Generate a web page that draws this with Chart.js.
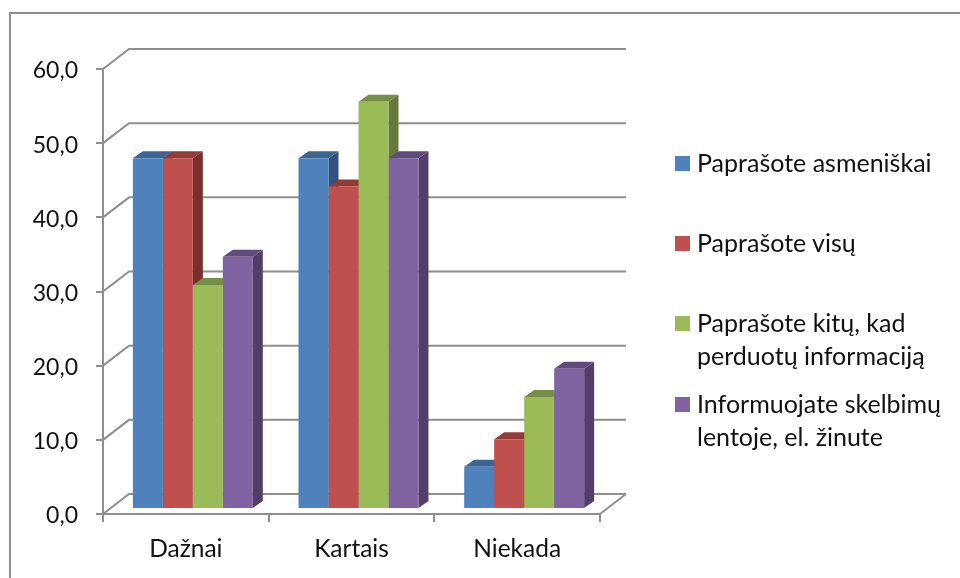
<!DOCTYPE html>
<html lang="lt">
<head>
<meta charset="utf-8">
<title>Chart</title>
<script src="https://cdn.jsdelivr.net/npm/chart.js@4"></script>
<style>
    html, body { margin: 0; padding: 0; background: #fff; overflow: hidden; }
    #wrap { position: relative; width: 960px; height: 578px; overflow: hidden; font-family: Lato, sans-serif; }
    #frame { position: absolute; left: 9px; top: 12px; width: 1000px; height: 700px; border: 2px solid #8e8e8e; }
    #chart { position: absolute; left: 0; top: 0; }
    .item { position: absolute; left: 697px; font-size: 25px; line-height: 33px; color: #111; white-space: pre-line; }
    .swatch { position: absolute; left: 675px; width: 15px; height: 15px; }
</style>
</head>
<body>
<div id="wrap">
    <div id="frame"></div>
    <canvas id="chart" width="960" height="578"></canvas>
    <div id="legend"></div>
</div>
<script>
const categories = ['Dažnai', 'Kartais', 'Niekada'];
const seriesNames = [
    'Paprašote asmeniškai',
    'Paprašote visų',
    'Paprašote kitų, kad\nperduotų informaciją',
    'Informuojate skelbimų\nlentoje, el. žinute'
];
const asmeniskai = [47.3, 47.3, 5.7];
const visu = [47.3, 43.5, 9.4];
const kitu = [30.2, 54.9, 15.1];
const skelbimu = [34.0, 47.3, 18.9];
const seriesValues = [asmeniskai, visu, kitu, skelbimu];

const frontColors = ['#4f81bd', '#c0504d', '#9bbb59', '#8064a2'];
const topColors = ['#3a6595', '#963a38', '#758f45', '#614a7e'];
const sideColors = ['#30527c', '#7a2f2d', '#64793b', '#533e69'];
const legendTops = [146, 226, 306, 387];
const swatchTops = [156, 236, 316, 397];

const gridColor = '#8e8e8e';
// depth of the back wall and of the bars, and where the bars stand on the floor
const wall = { dx: 26, dy: -20 };
const barDepth = { dx: 10, dy: -7 };
const barShift = { x: 7, y: -5 };

// Back wall, floor and the depth faces of the bars
const fake3d = {
    id: 'fake3d',
    beforeDatasetsDraw(chart) {
        const { ctx, scales: { x, y } } = chart;
        ctx.save();
        ctx.strokeStyle = gridColor;
        ctx.lineWidth = 2;
        y.ticks.forEach(t => {
            const py = y.getPixelForValue(t.value);
            ctx.beginPath();
            ctx.moveTo(x.left, py);
            ctx.lineTo(x.left + wall.dx, py + wall.dy);
            ctx.lineTo(x.right + wall.dx, py + wall.dy);
            ctx.stroke();
        });
        // right edge of the floor
        ctx.beginPath();
        ctx.moveTo(x.right + wall.dx, y.bottom + wall.dy);
        ctx.lineTo(x.right, y.bottom);
        ctx.stroke();

        // sides and tops, left to right so that the next bar covers the one before
        ctx.translate(barShift.x, barShift.y);
        categories.forEach((_, c) => {
            seriesValues.forEach((_, s) => {
                const bar = chart.getDatasetMeta(s).data[c];
                const left = bar.x - bar.width / 2;
                const right = bar.x + bar.width / 2;
                ctx.fillStyle = sideColors[s];
                ctx.beginPath();
                ctx.moveTo(right, bar.y);
                ctx.lineTo(right + barDepth.dx, bar.y + barDepth.dy);
                ctx.lineTo(right + barDepth.dx, bar.base + barDepth.dy);
                ctx.lineTo(right, bar.base);
                ctx.fill();
                ctx.fillStyle = topColors[s];
                ctx.beginPath();
                ctx.moveTo(left, bar.y);
                ctx.lineTo(left + barDepth.dx, bar.y + barDepth.dy);
                ctx.lineTo(right + barDepth.dx, bar.y + barDepth.dy);
                ctx.lineTo(right, bar.y);
                ctx.fill();
            });
        });
        // the front faces are drawn by the library in this same shifted position
    },
    afterDatasetsDraw(chart) {
        chart.ctx.restore();
    }
};

new Chart(document.getElementById('chart'), {
    type: 'bar',
    data: {
        labels: categories,
        datasets: seriesValues.map((values, i) => ({
            label: seriesNames[i],
            data: values,
            backgroundColor: frontColors[i],
            categoryPercentage: 0.724,
            barPercentage: 1
        }))
    },
    options: {
        responsive: false,
        animation: false,
        layout: { padding: { top: 69, right: 360, left: 0, bottom: 0 } },
        plugins: { legend: { display: false }, tooltip: { enabled: false } },
        scales: {
            x: {
                afterFit: s => { s.height = 64; },
                grid: { offset: true, drawOnChartArea: false, color: gridColor, lineWidth: 2, tickLength: 8 },
                border: { color: gridColor, width: 2 },
                ticks: { color: '#111', padding: 12, font: { family: 'Lato', size: 24.5 }, maxRotation: 0 }
            },
            y: {
                min: 0,
                max: 60,
                afterFit: s => { s.width = 103; },
                grid: { drawOnChartArea: false, color: gridColor, lineWidth: 2, tickLength: 7 },
                border: { color: gridColor, width: 2 },
                ticks: {
                    stepSize: 10,
                    color: '#111',
                    padding: 18,
                    labelOffset: 2,
                    font: { family: 'Lato', size: 23 },
                    callback: v => v.toFixed(1).replace('.', ',')
                }
            }
        }
    },
    plugins: [fake3d]
});

// Legend with the same wrapped lines as the picture
const legend = document.getElementById('legend');
seriesNames.forEach((name, i) => {
    const swatch = document.createElement('div');
    swatch.className = 'swatch';
    swatch.style.top = swatchTops[i] + 'px';
    swatch.style.background = frontColors[i];
    legend.appendChild(swatch);
    const item = document.createElement('div');
    item.className = 'item';
    item.style.top = legendTops[i] + 'px';
    item.textContent = name;
    legend.appendChild(item);
});
</script>
</body>
</html>
